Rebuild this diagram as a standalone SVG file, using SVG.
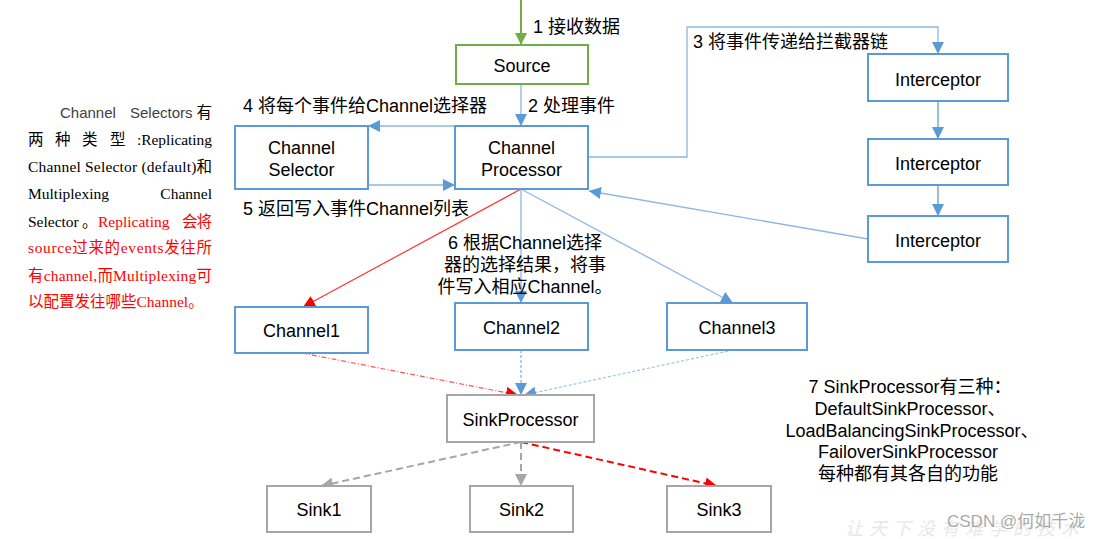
<svg xmlns="http://www.w3.org/2000/svg" width="1113" height="539" viewBox="0 0 1113 539">
<style>
.bg{fill:#fff}
.bx{fill:#fff;stroke:#5b9bd5;stroke-width:2}
.gx{fill:#fff;stroke:#a6a6a6;stroke-width:2}
.sx{fill:#fff;stroke:#70ad47;stroke-width:2}
.t{font-family:"Liberation Sans","Noto Sans CJK SC",sans-serif;font-size:18px;fill:#000}
.c{text-anchor:middle}
.p{font-family:"Liberation Serif","Noto Sans CJK SC",serif;font-size:15.5px;fill:#000}
.ps{font-family:"Liberation Sans","Noto Sans CJK SC",sans-serif;font-size:15px;fill:#404040}
.r{fill:#f00}
.ln{fill:none;stroke:#8db6e2;stroke-width:1.3}
.lb{fill:none;stroke:#5b9bd5;stroke-width:1.3}
</style>
<defs>
<marker id="ab" markerUnits="userSpaceOnUse" markerWidth="12" markerHeight="12" viewBox="0 0 10 10" refX="10" refY="5" orient="auto"><path d="M0,0L10,5L0,10z" fill="#5b9bd5"/></marker>
<marker id="ag" markerUnits="userSpaceOnUse" markerWidth="12" markerHeight="12" viewBox="0 0 10 10" refX="10" refY="5" orient="auto"><path d="M0,0L10,5L0,10z" fill="#70ad47"/></marker>
<marker id="ar" markerUnits="userSpaceOnUse" markerWidth="12" markerHeight="12" viewBox="0 0 10 10" refX="10" refY="5" orient="auto"><path d="M0,0L10,5L0,10z" fill="#f00"/></marker>
<marker id="agr" markerUnits="userSpaceOnUse" markerWidth="12" markerHeight="12" viewBox="0 0 10 10" refX="10" refY="5" orient="auto"><path d="M0,0L10,5L0,10z" fill="#a6a6a6"/></marker>
</defs>
<rect class="bg" x="0" y="0" width="1113" height="539"/>

<g id="connectors">
<line x1="521" y1="0" x2="521" y2="45" stroke="#70ad47" stroke-width="2" marker-end="url(#ag)"/>
<line class="ln" x1="521" y1="84" x2="521" y2="126" marker-end="url(#ab)"/>
<line class="ln" x1="455" y1="126" x2="368" y2="126" marker-end="url(#ab)"/>
<line class="ln" x1="368" y1="185" x2="455" y2="185" marker-end="url(#ab)"/>
<polyline class="ln" points="588,157 687,157 687,27 938,27 938,54" marker-end="url(#ab)"/>
<line class="lb" x1="938" y1="101" x2="938" y2="139" marker-end="url(#ab)"/>
<line class="lb" x1="938" y1="185" x2="938" y2="216" marker-end="url(#ab)"/>
<line class="ln" x1="868" y1="239" x2="589" y2="191" marker-end="url(#ab)"/>
<line x1="521" y1="189" x2="303" y2="307" stroke="#f33" stroke-width="1.2" marker-end="url(#ar)"/>
<line class="ln" x1="521" y1="189" x2="521" y2="303" marker-end="url(#ab)"/>
<line class="ln" x1="521" y1="189" x2="733" y2="303" marker-end="url(#ab)"/>
<line x1="302" y1="353" x2="518" y2="395" stroke="#f55" stroke-width="1.2" stroke-dasharray="5,2,1,2" marker-end="url(#ar)"/>
<line x1="521" y1="350" x2="521" y2="395" stroke="#7fb0e0" stroke-width="1.2" stroke-dasharray="3,2" marker-end="url(#ab)"/>
<line x1="733" y1="350" x2="524" y2="395" stroke="#9dc3e6" stroke-width="1.2" stroke-dasharray="3,2" marker-end="url(#ab)"/>
<line x1="521" y1="442" x2="321" y2="486" stroke="#a6a6a6" stroke-width="2" stroke-dasharray="7,4" marker-end="url(#agr)"/>
<line x1="521" y1="442" x2="521" y2="486" stroke="#a6a6a6" stroke-width="2" stroke-dasharray="7,4" marker-end="url(#agr)"/>
<line x1="521" y1="442" x2="717" y2="486" stroke="#f00" stroke-width="2" stroke-dasharray="7,4" marker-end="url(#ar)"/>
</g>

<g id="labels">
<text class="t" x="533" y="33">1 接收数据</text>
<text class="t" x="528" y="112">2 处理事件</text>
<text class="t" x="693" y="48">3 将事件传递给拦截器链</text>
<text class="t" x="243" y="112">4 将每个事件给Channel选择器</text>
<text class="t" x="243" y="215">5 返回写入事件Channel列表</text>
<text class="t c" x="525" y="249">6 根据Channel选择</text>
<text class="t c" x="525" y="271">器的选择结果，将事</text>
<text class="t c" x="525" y="293">件写入相应Channel。</text>
<text class="t c" x="910" y="393">7 SinkProcessor有三种：</text>
<text class="t c" x="910" y="415">DefaultSinkProcessor、</text>
<text class="t c" x="912" y="437">LoadBalancingSinkProcessor、</text>
<text class="t c" x="908" y="458">FailoverSinkProcessor</text>
<text class="t c" x="908" y="480">每种都有其各自的功能</text>
</g>

<g id="note">
<text class="ps" x="60" y="118">Channel</text>
<text class="ps" x="130" y="118">Selectors</text>
<text class="p" x="212" y="118" text-anchor="end">有</text>
<text class="p" x="28" y="145">两</text>
<text class="p" x="55" y="145">种</text>
<text class="p" x="82" y="145">类</text>
<text class="p" x="110" y="145">型</text>
<text class="p" x="137" y="145" textLength="75" lengthAdjust="spacing">:Replicating</text>
<text class="p" x="28" y="172" textLength="184" lengthAdjust="spacing">Channel Selector (default)和</text>
<text class="p" x="28" y="199">Multiplexing</text>
<text class="p" x="212" y="199" text-anchor="end">Channel</text>
<text class="p" x="28" y="227">Selector</text>
<text class="p" x="82" y="227">。</text>
<text class="p r" x="98" y="227">Replicating</text>
<text class="p r" x="212" y="227" text-anchor="end" textLength="30" lengthAdjust="spacing">会将</text>
<text class="p r" x="28" y="253" textLength="184" lengthAdjust="spacing">source过来的events发往所</text>
<text class="p r" x="28" y="281" textLength="184" lengthAdjust="spacing">有channel,而Multiplexing可</text>
<text class="p r" x="28" y="307">以配置发往哪些Channel。</text>
</g>

<g id="source"><rect class="sx" x="456" y="45" width="132" height="39"/><text class="t c" x="522" y="72">Source</text></g>
<g id="channelSelector"><rect class="bx" x="235" y="126" width="133" height="63"/><text class="t c" x="301.5" y="154">Channel</text><text class="t c" x="301.5" y="176">Selector</text></g>
<g id="channelProcessor"><rect class="bx" x="455" y="126" width="133" height="63"/><text class="t c" x="521.5" y="154">Channel</text><text class="t c" x="521.5" y="176">Processor</text></g>
<g id="interceptor1"><rect class="bx" x="868" y="54" width="140" height="47"/><text class="t c" x="938" y="86">Interceptor</text></g>
<g id="interceptor2"><rect class="bx" x="868" y="139" width="140" height="46"/><text class="t c" x="938" y="170">Interceptor</text></g>
<g id="interceptor3"><rect class="bx" x="868" y="216" width="140" height="46"/><text class="t c" x="938" y="247">Interceptor</text></g>
<g id="channel1"><rect class="bx" x="235" y="307" width="133" height="46"/><text class="t c" x="301.5" y="337">Channel1</text></g>
<g id="channel2"><rect class="bx" x="455" y="303" width="133" height="47"/><text class="t c" x="521.5" y="334">Channel2</text></g>
<g id="channel3"><rect class="bx" x="667" y="303" width="140" height="47"/><text class="t c" x="737" y="334">Channel3</text></g>
<g id="sinkProcessor"><rect class="gx" x="447" y="395" width="147" height="47"/><text class="t c" x="520.5" y="426">SinkProcessor</text></g>
<g id="sink1"><rect class="gx" x="267" y="486" width="104" height="46"/><text class="t c" x="319" y="516">Sink1</text></g>
<g id="sink2"><rect class="gx" x="470" y="486" width="103" height="46"/><text class="t c" x="521.5" y="516">Sink2</text></g>
<g id="sink3"><rect class="gx" x="667" y="486" width="104" height="46"/><text class="t c" x="719" y="516">Sink3</text></g>

<g id="watermark">
<text x="845" y="535" font-family="Noto Sans CJK SC,sans-serif" font-size="18" font-style="italic" fill="#e8e8e8" letter-spacing="6">让天下没有难学的技术</text>
<text x="947" y="527" font-family="Liberation Sans,Noto Sans CJK SC,sans-serif" font-size="17" fill="#9a9a9a" fill-opacity="0.85">CSDN @何如千泷</text>
</g>
</svg>
